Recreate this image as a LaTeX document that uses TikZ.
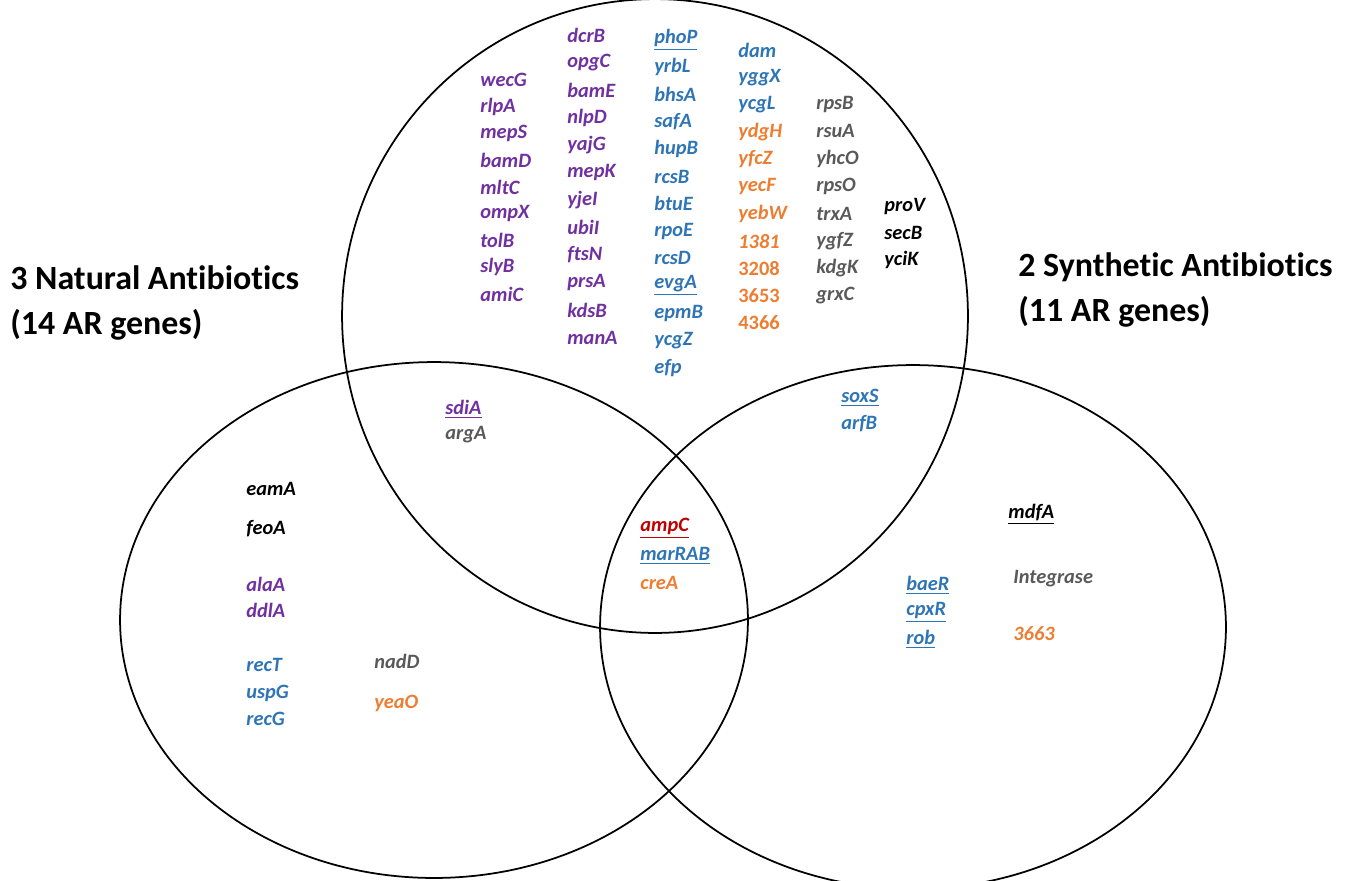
\documentclass[tikz,border=0pt]{standalone}
\usepackage{fontspec}
\setmainfont{Carlito}[Ligatures=NoCommon]
\definecolor{genepurple}{HTML}{7030A0}
\definecolor{geneblue}{HTML}{2E75B6}
\definecolor{geneorange}{HTML}{ED7D31}
\definecolor{genegray}{HTML}{595959}
\definecolor{genered}{HTML}{C00000}
\tikzset{
  gene/.style={anchor=west, inner sep=0pt, font=\fontsize{11.6}{13}\selectfont\bfseries\itshape},
  setname/.style={anchor=west, inner sep=0pt, align=left, font=\fontsize{19.3}{25.5}\selectfont\bfseries},
  venn/.style={draw=black, line width=1pt}
}
\begin{document}
\begin{tikzpicture}[x=0.02cm, y=-0.02cm]
  \useasboundingbox (0,0) rectangle (1348,880);
  % the three sets
  \draw[venn] (655,316) ellipse [x radius=6.26cm, y radius=6.34cm];
  \draw[venn] (434,620) ellipse [x radius=6.28cm, y radius=5.16cm];
  \draw[venn] (913,627) ellipse [x radius=6.26cm, y radius=5.24cm];
  % set titles
  \node[setname] (natural) at (10,303) {3 Natural Antibiotics\\(14 AR genes)};
  \node[setname] (synthetic) at (1018,290) {2 Synthetic Antibiotics\\(11 AR genes)};
  % top set only
  \foreach \g [count=\i] in {wecG,rlpA,mepS,bamD,mltC,ompX,tolB,slyB,amiC}
    \node[gene,genepurple] (ca\i) at (480,{53+26.8*\i}) {\g};
  \foreach \g [count=\i] in {dcrB,opgC,bamE,nlpD,yajG,mepK,yjeI,ubiI,ftsN,prsA,kdsB,manA}
    \node[gene,genepurple] (cb\i) at (567,{7.5+27.5*\i}) {\g};
  \foreach \g [count=\i] in {\underline{phoP},yrbL,bhsA,safA,hupB,rcsB,btuE,rpoE,rcsD,\underline{evgA},epmB,ycgZ,efp}
    \node[gene,geneblue] (cc\i) at (654,{12.7+27.3*\i}) {\g};
  \foreach \g [count=\i] in {dam,yggX,ycgL}
    \node[gene,geneblue] (cd\i) at (738,{22.7+27.3*\i}) {\g};
  \foreach \g [count=\i from 4] in {ydgH,yfcZ,yecF,yebW,1381}
    \node[gene,geneorange] (cd\i) at (738,{22.7+27.3*\i}) {\g};
  \foreach \g [count=\i from 9] in {3208,3653,4366}
    \node[gene,geneorange,font=\fontsize{11.6}{13}\selectfont\bfseries] (cd\i) at (738,{22.7+27.3*\i}) {\g};
  \foreach \g [count=\i] in {rpsB,rsuA,yhcO,rpsO,trxA,ygfZ,kdgK,grxC}
    \node[gene,genegray] (ce\i) at (816,{76.6+27.4*\i}) {\g};
  \foreach \g [count=\i] in {proV,secB,yciK}
    \node[gene,black] (cf\i) at (884,{179+27*\i}) {\g};
  % top and natural
  \node[gene,genepurple] (sdia) at (445,409) {\underline{sdiA}};
  \node[gene,genegray] (arga) at (445,435) {argA};
  % top and synthetic
  \node[gene,geneblue] (soxs) at (841,398) {\underline{soxS}};
  \node[gene,geneblue] (arfb) at (841,424) {arfB};
  % all three
  \node[gene,genered] (ampc) at (640,528) {\underline{ampC}};
  \node[gene,geneblue] (marrab) at (640,556) {\underline{marRAB}};
  \node[gene,geneorange] (crea) at (640,583) {creA};
  % natural only
  \node[gene,black] (eama) at (246,489) {eamA};
  \node[gene,black] (feoa) at (246,529) {feoA};
  \node[gene,genepurple] (alaa) at (246,584) {alaA};
  \node[gene,genepurple] (ddla) at (246,610) {ddlA};
  \node[gene,geneblue] (rect) at (246,665) {recT};
  \node[gene,geneblue] (uspg) at (246,693) {uspG};
  \node[gene,geneblue] (recg) at (246,719) {recG};
  \node[gene,genegray] (nadd) at (374,661) {nadD};
  \node[gene,geneorange] (yeao) at (374,703) {yeaO};
  % synthetic only
  \node[gene,black] (mdfa) at (1008,514) {\underline{mdfA}};
  \node[gene,genegray] (integrase) at (1013,579) {Integrase};
  \node[gene,geneorange] (g3663) at (1013,634) {3663};
  \node[gene,geneblue] (baer) at (906,585) {\underline{baeR}};
  \node[gene,geneblue] (cpxr) at (906,612) {\underline{cpxR}};
  \node[gene,geneblue] (rob) at (906,639) {\underline{rob}};
\end{tikzpicture}
\end{document}
